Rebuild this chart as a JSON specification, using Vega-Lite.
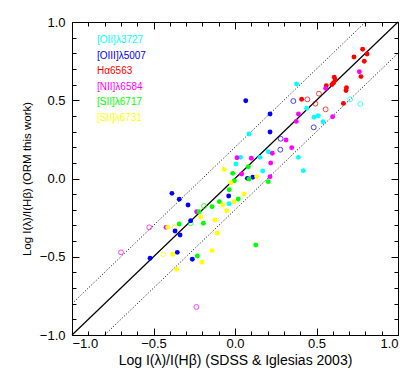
{
  "$schema": "https://vega.github.io/schema/vega-lite/v6.json",
  "width": 326,
  "height": 313,
  "autosize": {"type": "none"},
  "padding": {"left": 72, "top": 22, "right": 22, "bottom": 47},
  "background": "white",
  "config": {
    "view": {"stroke": "black", "strokeWidth": 1},
    "axis": {"domain": false, "grid": false, "tickColor": "black", "labelFont": "Liberation Sans", "titleFont": "Liberation Sans", "labelColor": "black", "titleColor": "black", "titleFontWeight": "normal"}
  },
  "datasets": {
    "pts": [
      {"x": 0.378, "y": 0.604, "line": "[OII]λ3727", "open": false},
      {"x": 0.44, "y": 0.449, "line": "[OII]λ3727", "open": false},
      {"x": 0.485, "y": 0.391, "line": "[OII]λ3727", "open": false},
      {"x": 0.511, "y": 0.401, "line": "[OII]λ3727", "open": false},
      {"x": 0.54, "y": 0.363, "line": "[OII]λ3727", "open": false},
      {"x": 0.086, "y": 0.284, "line": "[OII]λ3727", "open": false},
      {"x": 0.204, "y": 0.171, "line": "[OII]λ3727", "open": false},
      {"x": 0.389, "y": 0.135, "line": "[OII]λ3727", "open": false},
      {"x": 0.035, "y": 0.135, "line": "[OII]λ3727", "open": false},
      {"x": 0.153, "y": 0.135, "line": "[OII]λ3727", "open": false},
      {"x": 0.006, "y": 0.093, "line": "[OII]λ3727", "open": false},
      {"x": 0.17, "y": 0.048, "line": "[OII]λ3727", "open": false},
      {"x": 0.419, "y": 0.05, "line": "[OII]λ3727", "open": false},
      {"x": -0.037, "y": -0.161, "line": "[OII]λ3727", "open": false},
      {"x": 0.706, "y": 0.506, "line": "[OII]λ3727", "open": true},
      {"x": 0.769, "y": 0.476, "line": "[OII]λ3727", "open": true},

      {"x": 0.066, "y": 0.497, "line": "[OIII]λ5007", "open": false},
      {"x": 0.215, "y": 0.412, "line": "[OIII]λ5007", "open": false},
      {"x": 0.215, "y": 0.297, "line": "[OIII]λ5007", "open": false},
      {"x": 0.109, "y": 0.008, "line": "[OIII]λ5007", "open": false},
      {"x": 0.076, "y": 0.001, "line": "[OIII]λ5007", "open": false},
      {"x": -0.039, "y": -0.112, "line": "[OIII]λ5007", "open": false},
      {"x": -0.387, "y": -0.095, "line": "[OIII]λ5007", "open": false},
      {"x": -0.342, "y": -0.133, "line": "[OIII]λ5007", "open": false},
      {"x": -0.288, "y": -0.169, "line": "[OIII]λ5007", "open": false},
      {"x": -0.272, "y": -0.27, "line": "[OIII]λ5007", "open": false},
      {"x": -0.368, "y": -0.335, "line": "[OIII]λ5007", "open": false},
      {"x": -0.337, "y": -0.361, "line": "[OIII]λ5007", "open": false},
      {"x": -0.354, "y": -0.472, "line": "[OIII]λ5007", "open": false},
      {"x": -0.521, "y": -0.51, "line": "[OIII]λ5007", "open": false},
      {"x": -0.262, "y": -0.516, "line": "[OIII]λ5007", "open": false},
      {"x": 0.358, "y": 0.495, "line": "[OIII]λ5007", "open": true},
      {"x": 0.483, "y": 0.327, "line": "[OIII]λ5007", "open": true},
      {"x": 0.28, "y": 0.254, "line": "[OIII]λ5007", "open": true},
      {"x": 0.278, "y": 0.184, "line": "[OIII]λ5007", "open": true},

      {"x": 0.783, "y": 0.826, "line": "Hα6563", "open": false},
      {"x": 0.81, "y": 0.796, "line": "Hα6563", "open": false},
      {"x": 0.73, "y": 0.776, "line": "Hα6563", "open": false},
      {"x": 0.793, "y": 0.749, "line": "Hα6563", "open": false},
      {"x": 0.773, "y": 0.651, "line": "Hα6563", "open": false},
      {"x": 0.684, "y": 0.58, "line": "Hα6563", "open": false},
      {"x": 0.681, "y": 0.562, "line": "Hα6563", "open": false},
      {"x": 0.609, "y": 0.647, "line": "Hα6563", "open": false},
      {"x": 0.615, "y": 0.629, "line": "Hα6563", "open": false},
      {"x": 0.605, "y": 0.612, "line": "Hα6563", "open": false},
      {"x": 0.595, "y": 0.6, "line": "Hα6563", "open": false},
      {"x": 0.56, "y": 0.593, "line": "Hα6563", "open": false},
      {"x": 0.409, "y": 0.506, "line": "Hα6563", "open": false},
      {"x": 0.665, "y": 0.48, "line": "Hα6563", "open": false},
      {"x": 0.444, "y": 0.506, "line": "Hα6563", "open": true},
      {"x": 0.515, "y": 0.542, "line": "Hα6563", "open": true},
      {"x": 0.493, "y": 0.478, "line": "Hα6563", "open": true},
      {"x": 0.556, "y": 0.442, "line": "Hα6563", "open": true},

      {"x": 0.763, "y": 0.682, "line": "[NII]λ6584", "open": false},
      {"x": 0.556, "y": 0.576, "line": "[NII]λ6584", "open": false},
      {"x": 0.389, "y": 0.412, "line": "[NII]λ6584", "open": false},
      {"x": 0.376, "y": 0.365, "line": "[NII]λ6584", "open": false},
      {"x": 0.599, "y": 0.395, "line": "[NII]λ6584", "open": false},
      {"x": 0.313, "y": 0.246, "line": "[NII]λ6584", "open": false},
      {"x": 0.348, "y": 0.197, "line": "[NII]λ6584", "open": false},
      {"x": 0.229, "y": 0.161, "line": "[NII]λ6584", "open": false},
      {"x": 0.219, "y": 0.099, "line": "[NII]λ6584", "open": false},
      {"x": 0.1, "y": 0.129, "line": "[NII]λ6584", "open": false},
      {"x": 0.012, "y": 0.133, "line": "[NII]λ6584", "open": false},
      {"x": 0.041, "y": 0.029, "line": "[NII]λ6584", "open": false},
      {"x": 0.215, "y": 0.011, "line": "[NII]λ6584", "open": false},
      {"x": -0.235, "y": -0.212, "line": "[NII]λ6584", "open": false},
      {"x": -0.423, "y": -0.312, "line": "[NII]λ6584", "open": false},
      {"x": -0.526, "y": -0.312, "line": "[NII]λ6584", "open": true},
      {"x": -0.699, "y": -0.472, "line": "[NII]λ6584", "open": true},
      {"x": -0.237, "y": -0.821, "line": "[NII]λ6584", "open": true},

      {"x": 0.082, "y": 0.075, "line": "[SII]λ6717", "open": false},
      {"x": -0.014, "y": 0.033, "line": "[SII]λ6717", "open": false},
      {"x": -0.004, "y": -0.014, "line": "[SII]λ6717", "open": false},
      {"x": 0.086, "y": -0.003, "line": "[SII]λ6717", "open": false},
      {"x": 0.204, "y": -0.02, "line": "[SII]λ6717", "open": false},
      {"x": -0.035, "y": -0.072, "line": "[SII]λ6717", "open": false},
      {"x": -0.096, "y": -0.148, "line": "[SII]λ6717", "open": false},
      {"x": 0.02, "y": -0.131, "line": "[SII]λ6717", "open": false},
      {"x": -0.141, "y": -0.18, "line": "[SII]λ6717", "open": false},
      {"x": -0.221, "y": -0.212, "line": "[SII]λ6717", "open": false},
      {"x": -0.194, "y": -0.286, "line": "[SII]λ6717", "open": false},
      {"x": -0.342, "y": -0.291, "line": "[SII]λ6717", "open": false},
      {"x": -0.231, "y": -0.495, "line": "[SII]λ6717", "open": false},
      {"x": 0.127, "y": -0.425, "line": "[SII]λ6717", "open": false},
      {"x": -0.19, "y": -0.176, "line": "[SII]λ6717", "open": true},
      {"x": -0.272, "y": -0.286, "line": "[SII]λ6717", "open": true},

      {"x": 0.133, "y": 0.012, "line": "[SII]λ6731", "open": false},
      {"x": -0.067, "y": 0.058, "line": "[SII]λ6731", "open": false},
      {"x": -0.025, "y": -0.027, "line": "[SII]λ6731", "open": false},
      {"x": 0.055, "y": -0.099, "line": "[SII]λ6731", "open": false},
      {"x": -0.075, "y": -0.167, "line": "[SII]λ6731", "open": false},
      {"x": -0.006, "y": -0.148, "line": "[SII]λ6731", "open": false},
      {"x": -0.051, "y": -0.206, "line": "[SII]λ6731", "open": false},
      {"x": -0.21, "y": -0.246, "line": "[SII]λ6731", "open": false},
      {"x": -0.123, "y": -0.265, "line": "[SII]λ6731", "open": false},
      {"x": -0.109, "y": -0.35, "line": "[SII]λ6731", "open": false},
      {"x": -0.413, "y": -0.312, "line": "[SII]λ6731", "open": false},
      {"x": -0.382, "y": -0.484, "line": "[SII]λ6731", "open": false},
      {"x": -0.141, "y": -0.461, "line": "[SII]λ6731", "open": false},
      {"x": -0.204, "y": -0.535, "line": "[SII]λ6731", "open": false},
      {"x": -0.358, "y": -0.58, "line": "[SII]λ6731", "open": false},
      {"x": -0.44, "y": -0.484, "line": "[SII]λ6731", "open": true},
      {"x": -0.372, "y": -0.314, "line": "[SII]λ6731", "open": true}
    ]
  },
  "layer": [
    {
      "data": {"values": [{"xa": -1, "ya": -1, "xb": 1, "yb": 1}]},
      "mark": {"type": "rule", "color": "black", "strokeWidth": 1.2},
      "encoding": {
        "x": {"field": "xa", "type": "quantitative", "scale": {"domain": [-1, 1], "nice": false, "zero": false},
          "axis": {"orient": "bottom", "values": [-1, -0.5, 0, 0.5, 1], "format": ".1f", "tickSize": -7, "labelPadding": 9, "labelFontSize": 13, "title": "Log I(λ)/I(Hβ) (SDSS & Iglesias 2003)", "titleFontSize": 14, "titlePadding": 3}},
        "x2": {"field": "xb"},
        "y": {"field": "ya", "type": "quantitative", "scale": {"domain": [-1, 1], "nice": false, "zero": false},
          "axis": {"orient": "left", "values": [-1, -0.5, 0, 0.5, 1], "format": ".1f", "tickSize": -7, "labelPadding": 14, "labelFontSize": 13, "title": "Log I(λ)/I(Hβ) (ORM this work)", "titleFontSize": 11.5, "titlePadding": 7}},
        "y2": {"field": "yb"}
      }
    },
    {
      "data": {"values": [{"xa": -1, "ya": -0.8, "xb": 0.8, "yb": 1}, {"xa": -0.8, "ya": -1, "xb": 1, "yb": 0.8}]},
      "mark": {"type": "rule", "color": "black", "strokeWidth": 1, "strokeDash": [1, 2]},
      "encoding": {
        "x": {"field": "xa", "type": "quantitative", "scale": {"domain": [-1, 1], "nice": false, "zero": false},
          "axis": {"orient": "bottom", "values": [-0.9, -0.8, -0.7, -0.6, -0.4, -0.3, -0.2, -0.1, 0.1, 0.2, 0.3, 0.4, 0.6, 0.7, 0.8, 0.9], "tickSize": -4, "labels": false, "title": null}},
        "x2": {"field": "xb"},
        "y": {"field": "ya", "type": "quantitative", "scale": {"domain": [-1, 1], "nice": false, "zero": false},
          "axis": {"orient": "left", "values": [-0.9, -0.8, -0.7, -0.6, -0.4, -0.3, -0.2, -0.1, 0.1, 0.2, 0.3, 0.4, 0.6, 0.7, 0.8, 0.9], "tickSize": -4, "labels": false, "title": null}},
        "y2": {"field": "yb"}
      }
    },
    {
      "data": {"name": "pts"},
      "transform": [{"filter": "datum.open"}],
      "mark": {"type": "point", "filled": false, "shape": "circle", "size": 24, "strokeWidth": 1, "opacity": 0.75},
      "encoding": {
        "x": {"field": "x", "type": "quantitative", "scale": {"domain": [-1, 1], "nice": false, "zero": false},
          "axis": {"orient": "top", "values": [-1, -0.5, 0, 0.5, 1], "tickSize": -7, "labels": false, "title": null}},
        "y": {"field": "y", "type": "quantitative", "scale": {"domain": [-1, 1], "nice": false, "zero": false},
          "axis": {"orient": "right", "values": [-1, -0.5, 0, 0.5, 1], "tickSize": -7, "labels": false, "title": null}},
        "color": {"field": "line", "type": "nominal",
          "scale": {"domain": ["[OII]λ3727", "[OIII]λ5007", "Hα6563", "[NII]λ6584", "[SII]λ6717", "[SII]λ6731"], "range": ["#00FFFF", "#0000FF", "#FF0000", "#FF00FF", "#00FF00", "#FFFF00"]},
          "legend": {"orient": "none", "legendX": 15, "legendY": 13, "title": null, "symbolSize": 0, "symbolStrokeWidth": 0, "symbolOpacity": 0, "labelFontSize": 10, "labelFont": "Liberation Sans", "rowPadding": 5.5, "labelOffset": 0,
            "encode": {"labels": {"update": {"fill": {"scale": "color", "field": "value"}}}}}}
      }
    },
    {
      "data": {"name": "pts"},
      "transform": [{"filter": "!datum.open"}],
      "mark": {"type": "circle", "size": 24, "opacity": 1},
      "encoding": {
        "x": {"field": "x", "type": "quantitative", "scale": {"domain": [-1, 1], "nice": false, "zero": false},
          "axis": {"orient": "top", "values": [-0.9, -0.8, -0.7, -0.6, -0.4, -0.3, -0.2, -0.1, 0.1, 0.2, 0.3, 0.4, 0.6, 0.7, 0.8, 0.9], "tickSize": -4, "labels": false, "title": null}},
        "y": {"field": "y", "type": "quantitative", "scale": {"domain": [-1, 1], "nice": false, "zero": false},
          "axis": {"orient": "right", "values": [-0.9, -0.8, -0.7, -0.6, -0.4, -0.3, -0.2, -0.1, 0.1, 0.2, 0.3, 0.4, 0.6, 0.7, 0.8, 0.9], "tickSize": -4, "labels": false, "title": null}},
        "color": {"field": "line", "type": "nominal",
          "scale": {"domain": ["[OII]λ3727", "[OIII]λ5007", "Hα6563", "[NII]λ6584", "[SII]λ6717", "[SII]λ6731"], "range": ["#00FFFF", "#0000FF", "#FF0000", "#FF00FF", "#00FF00", "#FFFF00"]},
          "legend": {"orient": "none", "legendX": 15, "legendY": 13, "title": null, "symbolSize": 0, "symbolStrokeWidth": 0, "symbolOpacity": 0, "labelFontSize": 10, "labelFont": "Liberation Sans", "rowPadding": 5.5, "labelOffset": 0,
            "encode": {"labels": {"update": {"fill": {"scale": "color", "field": "value"}}}}}}
      }
    }
  ],
  "resolve": {"axis": {"x": "independent", "y": "independent"}}
}
